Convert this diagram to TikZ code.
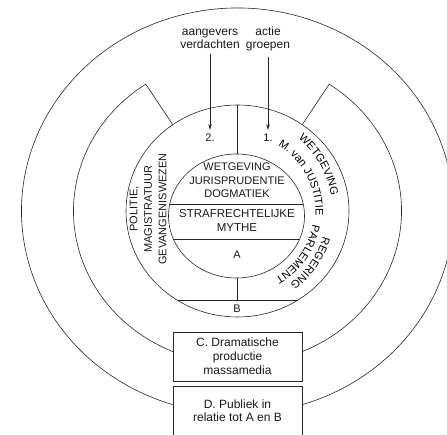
\documentclass[tikz,border=0pt]{standalone}
\usepackage{fontspec}
\setmainfont{Liberation Sans}
\usetikzlibrary{decorations.text,arrows.meta}
\newcommand\arcfont{\fontsize{11}{13}\selectfont}
\begin{document}
\begin{tikzpicture}[x=1pt,y=1pt,
  ring/.style={draw=black!85, line width=0.6pt},
  lbl/.style={align=center, inner sep=1pt, text=black!90},
  f11/.style={font=\fontsize{11}{13.5}\selectfont},
  f12/.style={font=\fontsize{12}{13}\selectfont},
  boxc/.style={draw=black!85, line width=0.6pt, minimum width=129pt, minimum height=49pt, align=center, inner sep=1pt, font=\fontsize{12}{14}\selectfont, text=black!90},
  arr/.style={draw=black!85, line width=0.6pt, -{Stealth[length=6pt,width=3.5pt]}},
  arctext/.style={decorate, decoration={text along path, text align=center, text={|\arcfont|#1}}}
]
\useasboundingbox (0,0) rectangle (447,435);

% outer ring (open at box D)
\draw[ring] ([shift={(237.5,224)}]-72.5:216 and 203) arc[start angle=-72.5, end angle=252.5, x radius=216, y radius=203];

% third ring with notches at the top
\draw[ring] ([shift={(237.5,224)}]-66.8:164 and 153) arc[start angle=-66.8, end angle=56, x radius=164, y radius=153]
  -- ([shift={(237.5,224)}]54.5:111.5 and 106);
\draw[ring] ([shift={(237.5,224)}]125.5:111.5 and 106) -- ([shift={(237.5,224)}]124:164 and 153)
  arc[start angle=124, end angle=246.8, x radius=164, y radius=153];

% second ring
\draw[ring] (237.5,224) ellipse[x radius=111.5, y radius=106];
% inner ellipse
\draw[ring] (236.5,219) ellipse[x radius=68, y radius=62];

\begin{scope}
  \clip (236.5,219) ellipse[x radius=68, y radius=62];
  \draw[ring] (150,231) -- (320,231) (150,196) -- (320,196);
\end{scope}
\begin{scope}
  \clip (237.5,224) ellipse[x radius=111.5, y radius=106];
  \draw[ring] (110,135) -- (365,135);
\end{scope}
\draw[ring] (237,330) -- (237,281);
\draw[ring] (237,157) -- (237,135);

% top labels and arrows
\node[lbl, f12] (aang) at (210,396.5) {aangevers\\verdachten};
\node[lbl, f12] (actie) at (268,396.5) {actie\\groepen};
\node[lbl, f11] (two) at (210,297) {2.};
\node[lbl, f11] (one) at (268,297) {1.};
\draw[arr, shorten <=5pt, shorten >=3pt] (aang) -- (two);
\draw[arr, shorten <=5pt, shorten >=3pt] (actie) -- (one);

% inner texts
\node[lbl, f11] (wet) at (237,254.5) {WETGEVING\\JURISPRUDENTIE\\DOGMATIEK};
\node[lbl, font=\fontsize{11.5}{14}\selectfont] (straf) at (237,214.5) {STRAFRECHTELIJKE\\MYTHE};
\node[lbl, f11] (a) at (237,180) {A};
\node[lbl, f11] (b) at (237,126) {B};
\node[lbl, rotate=90, font=\fontsize{11}{14.5}\selectfont] (pol) at (148,226) {POLITIE,\\MAGISTRATUUR\\GEVANGENISWEZEN};

% curved texts
\path[arctext={WETGEVING}] ([shift={(237.5,223)}]60:95) arc[start angle=60, end angle=0, radius=95];
\path[arctext={M. van JUSTITIE}] ([shift={(237.5,223)}]73:78) arc[start angle=73, end angle=-17, radius=78];
\path[arctext={REGERING}] ([shift={(237.5,223)}]-5:89) arc[start angle=-5, end angle=-65, radius=89];
\path[arctext={PARLEMENT}] ([shift={(237.5,223)}]0:76) arc[start angle=0, end angle=-70, radius=76];

% boxes
\node[boxc] (boxc) at (237.5,78.5) {C. Dramatische\\productie\\massamedia};
\node[lbl, minimum width=129pt, minimum height=48pt, font=\fontsize{12}{13}\selectfont] (boxd) at (237.5,24) {D. Publiek in\\relatie tot A en B};
\draw[ring] (boxd.south west) -- (boxd.north west) -- (boxd.north east) -- (boxd.south east);
\end{tikzpicture}
\end{document}
